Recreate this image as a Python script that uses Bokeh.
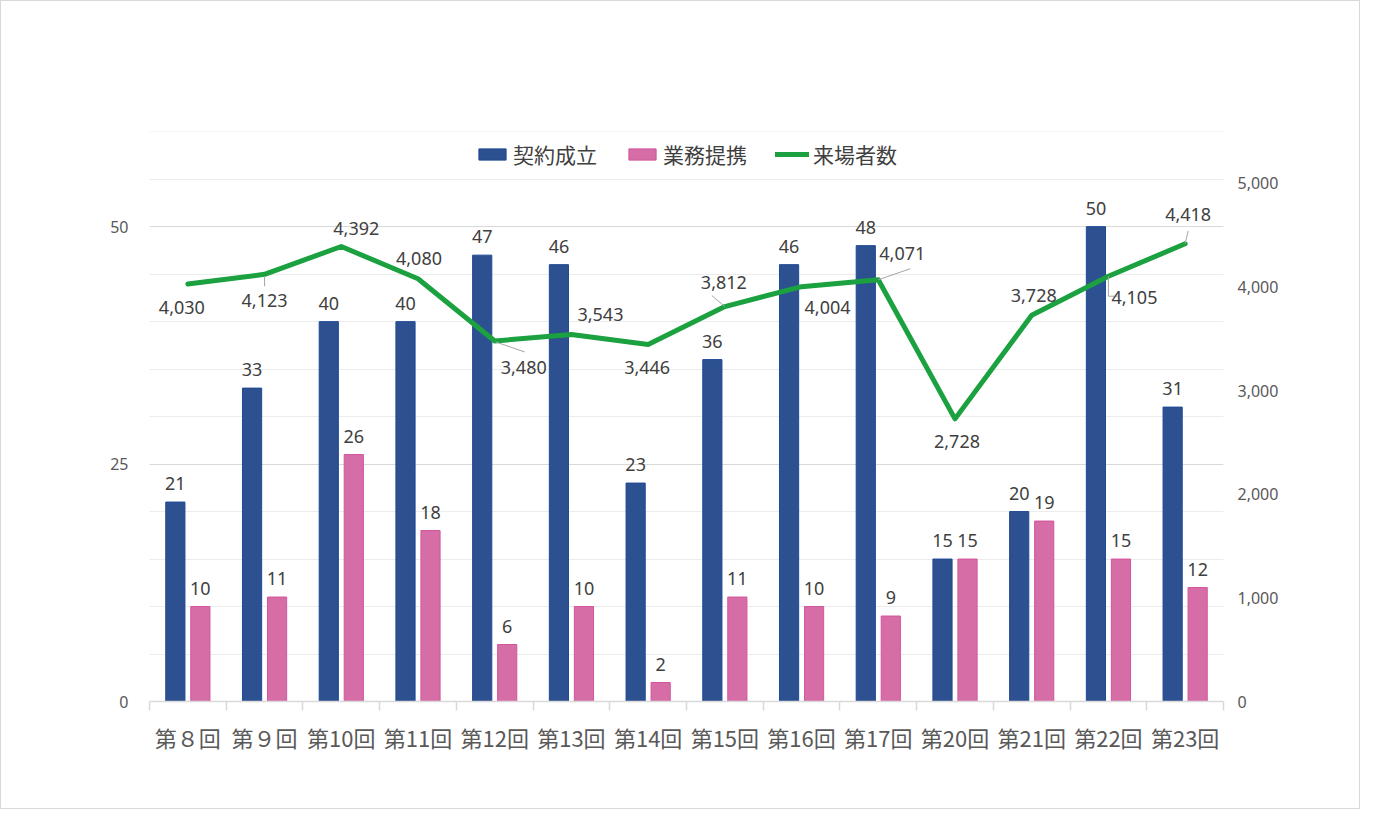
import numpy as np
from bokeh.plotting import figure
from bokeh.models import (Range1d, LinearAxis, FixedTicker, NumeralTickFormatter,
                          Legend, LegendItem)
from bokeh.core.properties import value
from bokeh.embed import file_html
from bokeh.resources import INLINE

# ---------------- data ----------------
categories = ["第８回", "第９回", "第10回", "第11回", "第12回", "第13回", "第14回",
              "第15回", "第16回", "第17回", "第20回", "第21回", "第22回", "第23回"]
contracts = [21, 33, 40, 40, 47, 46, 23, 36, 46, 48, 15, 20, 50, 31]      # 契約成立
partnerships = [10, 11, 26, 18, 6, 10, 2, 11, 10, 9, 15, 19, 15, 12]      # 業務提携
visitors = [4030, 4123, 4392, 4080, 3480, 3543, 3446, 3812, 4004, 4071,
            2728, 3728, 4105, 4418]                                        # 来場者数
left_ticks = [0, 25, 50]
right_ticks = [0, 1000, 2000, 3000, 4000, 5000]

# ---------------- styles ----------------
BLUE = "#2C5090"
PINK = "#D66DA6"
GREEN = "#1BA140"
TXT = "#404040"
AX = "#595959"
NUM_FONT = value("Noto Sans")
JP_FONT = "Noto Sans CJK JP"

W, H = 1360, 809
FL, FT = 148, 130
FR, FB = W - 1222, H - 700
frame_w = W - FL - FR
frame_h = H - FT - FB
LEFT_MAX, RIGHT_MAX = 60, 5500
EPS = 0.02

# label offsets for visitor labels (screen px)
lbl_dx = [-6, 0, 15, 1, 29, 29, -1, -1, 26, 24, 2, 2, 26, 3]
lbl_dy = [24, 26, -18, -20, 27, -20, 23, -24, 21, -26, 23, -20, 21, -29]
# leader lines (index, polyline offsets in px from the point)
leaders = [
    (1, [(0, 2), (0, 12)]),
    (4, [(1, 1), (30, 11)]),
    (7, [(0, 0), (-13, -11)]),
    (9, [(0, 0), (32, -11)]),
    (12, [(0, 0), (0, 20), (9, 20)]),
    (13, [(0, 0), (3, -13)]),
]

xs = np.arange(len(categories))
BAR_W = 0.25
OFF = 0.163

p = figure(width=W, height=H, x_range=Range1d(-0.5, len(categories) - 0.5),
           y_range=Range1d(0, LEFT_MAX + EPS), output_backend="svg", toolbar_location=None,
           min_border_left=FL, min_border_right=FR, min_border_top=FT, min_border_bottom=FB)
p.outline_line_color = None
p.background_fill_color = "white"
p.border_fill_color = "white"
p.extra_y_ranges = {"right": Range1d(0, RIGHT_MAX * (LEFT_MAX + EPS) / LEFT_MAX)}
p.styles = {"border": "1px solid #d9d9d9"}

# axes
p.yaxis.ticker = FixedTicker(ticks=left_ticks, minor_ticks=list(range(0, LEFT_MAX + 1, 5)))
p.yaxis.axis_line_color = None
p.yaxis.major_tick_line_color = None
p.yaxis.minor_tick_line_color = None
p.yaxis.major_label_text_font = "Noto Sans"
p.yaxis.major_label_text_font_size = "16px"
p.yaxis.major_label_text_color = AX
p.yaxis.major_label_standoff = 15

ry = LinearAxis(y_range_name="right",
                ticker=FixedTicker(ticks=right_ticks),
                formatter=NumeralTickFormatter(format="0,0"))
ry.axis_line_color = None
ry.major_tick_line_color = None
ry.minor_tick_line_color = None
ry.major_label_text_font = "Noto Sans"
ry.major_label_text_font_size = "16px"
ry.major_label_text_color = AX
ry.major_label_standoff = 8
p.add_layout(ry, "right")

p.xaxis.ticker = FixedTicker(ticks=list(xs),
                             minor_ticks=[i - 0.5 for i in range(len(categories) + 1)])
p.xaxis.major_label_overrides = {int(i): c for i, c in zip(xs, categories)}
p.xaxis.axis_line_color = "#d9d9d9"
p.xaxis.axis_line_width = 1.5
p.xaxis.major_tick_line_color = None
p.xaxis.minor_tick_line_color = "#d9d9d9"
p.xaxis.minor_tick_line_width = 1.5
p.xaxis.minor_tick_out = 9
p.xaxis.minor_tick_in = 0
p.xaxis.major_label_text_font = JP_FONT
p.xaxis.major_label_text_font_size = "22px"
p.xaxis.major_label_text_color = AX
p.xaxis.major_label_standoff = 10

p.xgrid.visible = False
p.ygrid.grid_line_color = "#d9d9d9"
p.ygrid.minor_grid_line_color = "#ececec"
p.ygrid.grid_line_width = 1

# bars
r_blue = p.vbar(x=xs - OFF, top=contracts, width=BAR_W, fill_color=BLUE,
                line_color="#1F4A96", line_width=1)
r_pink = p.vbar(x=xs + OFF, top=partnerships, width=BAR_W, fill_color=PINK,
                line_color="#D2559C", line_width=1)

# line
r_line = p.line(xs, visitors, y_range_name="right", line_color=GREEN, line_width=5,
                line_join="round", line_cap="round")

# leader lines
px_x = len(categories) / frame_w
px_y = RIGHT_MAX / (frame_h * LEFT_MAX / (LEFT_MAX + EPS))
lx, ly = [], []
for i, pts in leaders:
    lx.append([xs[i] + dx * px_x for dx, dy in pts])
    ly.append([visitors[i] - dy * px_y for dx, dy in pts])
p.multi_line(lx, ly, y_range_name="right", line_color="#a6a6a6", line_width=1)

# bar labels
p.text(x=xs - OFF, y=contracts, text=[str(v) for v in contracts], text_align="center",
       text_baseline="bottom", y_offset=-12, text_font=NUM_FONT, text_font_size="18px",
       text_color=TXT)
p.text(x=xs + OFF, y=partnerships, text=[str(v) for v in partnerships], text_align="center",
       text_baseline="bottom", y_offset=-12, text_font=NUM_FONT, text_font_size="18px",
       text_color=TXT)

# visitor labels
p.text(x=xs, y=visitors, text=[f"{v:,}" for v in visitors], y_range_name="right",
       x_offset=lbl_dx, y_offset=lbl_dy, text_align="center", text_baseline="middle",
       text_font=NUM_FONT, text_font_size="18px", text_color=TXT)

legend = Legend(items=[LegendItem(label="契約成立", renderers=[r_blue]),
                       LegendItem(label="業務提携", renderers=[r_pink]),
                       LegendItem(label="来場者数", renderers=[r_line])],
                orientation="horizontal", location="top_center",
                glyph_width=34, glyph_height=14, spacing=28, label_standoff=4,
                padding=0, margin=8, background_fill_alpha=0, border_line_alpha=0,
                label_text_font=JP_FONT, label_text_font_size="21px",
                label_text_color=TXT)
p.add_layout(legend, "center")

open("out.html", "w").write(file_html(p, INLINE))
